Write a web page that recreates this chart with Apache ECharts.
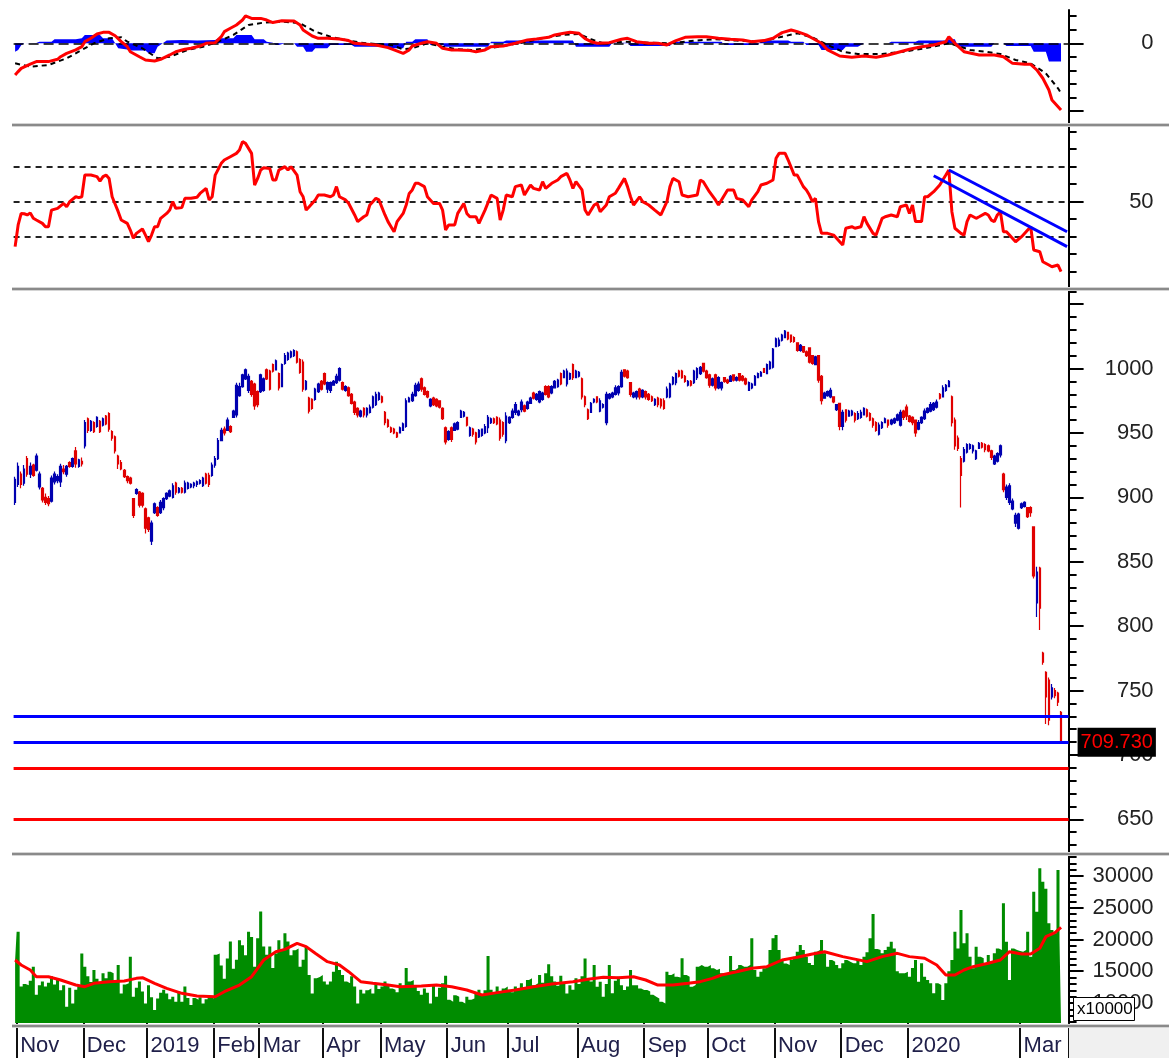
<!DOCTYPE html>
<html><head><meta charset="utf-8">
<script src="https://cdn.jsdelivr.net/npm/echarts/dist/echarts.min.js"></script>
<style>html,body{margin:0;padding:0;background:#fff}#c{width:1169px;height:1058px}</style>
</head><body><div id="c"></div>
<script>
// ---------- DATA ----------
// daily bars [open, close, low, high], 31 Oct 2018 .. 19 Mar 2020
const ohlcBars = [
[896,914,894,916],[910,924,908,927],[918,910,907,920],[911,922,909,925],[930,918,916,932],[918,924,915,927],[925,917,916,926],[921,932,920,934],[908,918,906,920],[907,898,896,908],
[900,896,894,903],[899,895,893,901],[897,915,896,917],[912,918,910,920],[913,916,911,918],[912,924,908,926],[922,920,918,925],[918,924,916,925],[927,924,923,928],[924,930,923,931],
[936,926,923,939],[924,929,923,930],[928,926,924,931],[940,958,938,960],[961,952,950,962],[952,959,951,960],[958,951,950,959],[955,962,954,963],[959,951,950,960],[956,961,955,962],
[963,957,956,964],[965,953,951,966],[951,946,944,952],[947,936,934,948],[932,926,922,933],[927,922,921,929],[921,916,915,922],[916,913,911,917],[915,911,910,916],[899,886,884,899],
[903,906,902,907],[904,894,892,905],[903,894,892,904],[891,876,872,892],[884,875,873,885],[866,880,863,882],[888,895,887,896],[892,886,885,893],[888,896,887,898],[892,899,890,900],
[899,903,898,904],[901,905,900,906],[900,909,899,911],[911,904,902,912],[904,907,903,908],[907,904,903,908],[904,911,903,913],[907,911,906,912],[908,910,907,911],[909,911,907,912],
[910,912,908,913],[911,913,910,914],[909,915,908,916],[918,911,910,919],[917,910,908,919],[917,925,916,927],[925,930,923,932],[930,944,929,946],[944,952,944,954],[953,950,948,955],
[952,960,952,962],[955,951,950,956],[962,967,962,968],[964,987,962,989],[979,986,978,989],[986,995,985,996],[992,999,991,1000],[983,994,981,996],[990,980,978,991],[988,971,968,989],
[982,972,970,983],[982,995,981,996],[983,992,982,993],[999,992,991,1000],[998,984,983,999],[1003,998,997,1004],[999,1006,999,1007],[996,985,983,997],[986,1003,986,1004],[1004,1010,1003,1012],
[1007,1012,1006,1013],[1009,1013,1008,1014],[1010,1014,1009,1015],[1013,1005,1004,1014],[1007,997,996,1008],[1005,984,982,1007],[984,990,983,991],[977,967,965,978],[976,969,968,977],[976,984,975,985],
[982,988,981,989],[990,984,983,991],[996,988,987,997],[984,989,981,990],[983,989,981,990],[987,990,987,991],[989,994,988,996],[991,1000,990,1001],[989,984,983,990],[983,986,982,987],
[985,979,978,986],[980,973,972,981],[974,966,964,975],[969,964,962,970],[963,967,962,968],[969,964,962,970],[964,969,962,970],[966,970,965,972],[970,978,969,979],[972,980,971,982],
[976,981,975,982],[978,974,973,979],[966,958,956,967],[960,955,954,961],[954,951,950,955],[953,950,949,954],[950,947,946,951],[950,954,950,955],[952,957,952,958],[955,975,954,977],
[974,977,974,978],[975,980,974,982],[979,987,978,989],[983,988,982,990],[992,984,982,993],[985,980,979,986],[982,978,977,983],[971,976,970,977],[977,972,971,978],[976,971,970,977],
[975,970,969,975],[969,961,960,970],[954,943,941,955],[945,951,944,952],[954,945,943,955],[952,957,952,958],[953,958,952,959],[962,967,962,968],[963,966,962,967],[962,956,955,962],
[948,954,947,955],[953,949,947,954],[950,943,941,951],[947,952,946,953],[948,953,947,953],[950,955,949,957],[954,962,950,964],[958,961,957,962],[961,958,957,962],[962,957,956,963],
[960,946,944,962],[958,949,947,959],[944,963,942,966],[958,962,957,963],[962,967,961,969],[966,972,964,974],[964,967,963,968],[968,974,966,976],[971,967,966,972],[969,974,968,975],
[973,977,973,978],[981,977,976,982],[976,980,975,981],[974,982,973,983],[976,981,975,982],[986,980,979,987],[986,978,977,987],[981,986,980,987],[985,990,985,991],[986,991,985,992],
[996,988,987,997],[993,998,993,999],[988,998,986,1000],[992,996,991,997],[1003,993,991,1004],[993,998,993,999],[994,997,993,998],[992,978,976,993],[978,972,970,979],[968,961,960,969],
[966,973,966,974],[974,976,973,977],[978,974,973,978],[967,975,966,977],[970,972,969,973],[958,980,956,982],[977,980,976,981],[978,981,977,982],[980,985,979,987],[981,986,979,987],
[986,997,985,999],[999,994,993,999],[998,993,992,999],[989,980,978,989],[978,981,977,982],[978,982,976,983],[984,978,976,985],[978,983,977,984],[982,978,976,983],[980,976,975,981],
[978,975,974,979],[972,976,971,977],[977,972,970,978],[976,971,969,977],[975,969,968,977],[978,984,977,986],[978,988,977,989],[988,993,987,994],[989,996,987,997],[998,994,993,999],
[998,993,992,999],[994,990,989,995],[987,990,986,991],[990,987,986,991],[989,998,988,999],[993,1000,991,1001],[996,1001,995,1002],[1004,998,997,1004],[998,993,992,999],[995,987,985,996],
[987,992,986,993],[995,985,983,996],[985,993,984,994],[985,989,983,990],[993,990,989,993],[991,989,988,992],[990,994,990,995],[995,991,990,995],[991,993,990,994],[996,991,990,996],
[994,991,990,995],[992,988,987,993],[983,989,983,990],[985,988,984,989],[987,994,987,995],[993,996,993,997],[994,997,994,998],[1000,997,997,1000],[996,1003,996,1004],[1000,1005,999,1006],
[1001,1015,1000,1016],[1017,1023,1017,1024],[1018,1022,1017,1024],[1022,1026,1021,1027],[1024,1029,1024,1030],[1028,1023,1022,1028],[1026,1021,1020,1026],[1024,1021,1020,1025],[1020,1014,1013,1020],[1014,1018,1013,1019],
[1017,1013,1012,1017],[1013,1010,1009,1014],[1016,1005,1004,1016],[1010,1004,1003,1010],[1003,1009,1003,1010],[1010,991,989,1010],[994,975,972,995],[977,981,977,982],[979,982,978,983],[978,983,977,985],
[978,974,973,978],[968,972,967,972],[973,955,952,973],[955,966,952,968],[968,960,958,968],[963,967,963,968],[964,967,963,968],[965,960,958,966],[961,965,960,967],[962,966,961,968],
[964,969,964,970],[968,963,962,969],[965,960,959,966],[961,956,954,962],[958,952,951,959],[949,956,948,958],[954,958,953,959],[958,961,958,962],[960,956,954,960],[957,960,956,961],
[958,961,957,962],[960,964,959,965],[956,966,955,968],[967,962,960,968],[970,963,960,972],[963,959,958,964],[962,958,956,963],[960,950,947,960],[953,958,952,960],[958,962,957,963],
[961,967,960,969],[966,969,965,970],[967,972,966,974],[968,973,967,974],[970,974,969,976],[980,977,976,981],[978,985,978,987],[983,987,982,988],[986,990,986,991],[978,958,955,979],
[960,940,937,962],[946,938,936,948],[930,917,892,932],[928,937,927,939],[935,941,934,942],[938,941,937,942],[936,940,934,941],[930,936,929,937],[938,942,938,943],[942,939,938,943],
[941,937,935,942],[940,936,935,941],[936,931,929,937],[926,932,925,933],[928,934,927,935],[933,940,931,941],[918,906,904,919],[900,908,898,910],[896,909,894,911],[891,897,890,899],
[880,886,877,888],[876,887,875,888],[892,895,891,896],[893,896,892,897],[892,885,884,892],[892,888,885,893],[877,839,837,877],[818,842,807,846],[845,814,797,846],[779,772,770,780],
[764,745,724,765],[758,727,723,760],[745,752,743,755],[750,746,744,752],[748,741,738,749],[733,709.73,709.73,734]
];
// daily volume (x10000)
const volumes = [
16800,21200,12600,13000,12800,13500,15700,11300,12800,13400,12600,13200,14200,12900,13600,12000,12800,9400,12400,9900,
12100,12600,17800,15700,14200,13300,15200,13800,13100,14700,13900,14900,14700,13400,16000,11500,12900,13100,17300,11000,
12400,13400,11800,9900,12800,10900,8900,10700,11600,12100,11500,10600,11000,10200,11800,10200,12600,10800,9700,10800,
10500,10900,9900,10600,11000,10700,17600,17800,15900,13800,17000,19700,15400,16800,19900,19100,17500,21200,20400,15700,
20200,24400,18900,17600,18900,15500,17800,19900,18200,21000,19700,17500,18300,18600,15700,16800,18900,14400,11500,13900,
14100,14400,13400,12900,13400,14900,16500,15200,14400,13400,13100,14200,12600,9900,12100,11500,12000,12300,11500,13100,
12200,12600,13400,12800,12300,12100,11700,13100,12600,15500,13400,13600,12600,11900,11300,12300,11600,9900,12800,11000,
12400,13100,14300,10500,10200,11200,11000,10200,9900,11000,10500,10700,11400,12100,11200,12000,17400,12100,11400,12600,
11900,12300,12600,12100,11700,12600,12200,13100,12500,13600,13900,12800,13100,14400,13200,14700,16100,14200,13400,12700,
14300,13000,11500,12800,12100,13900,13000,14200,17000,13800,13400,16000,12570,13360,11000,13000,15980,11520,13500,14150,
12800,12050,12600,15200,12800,12800,12300,12050,12050,11800,11300,11000,10700,10200,9900,14930,14400,14670,14150,14000,
17040,14400,14150,12570,12830,15700,15980,15700,15700,15980,15460,15200,15400,14670,14400,14670,17400,15200,15500,15980,
15720,15700,16000,20180,15200,14150,14930,15460,15720,18340,20180,20710,18340,16770,16200,15980,16770,17300,18080,19130,
18340,17300,16300,15980,18080,18340,19920,17820,15720,16770,16500,16000,15460,16240,16770,16500,16240,16240,16770,15980,
17300,18000,20180,24020,18500,18340,17820,18340,18870,19660,18600,15000,14670,14670,14930,14150,15500,16770,13360,16240,
14150,13600,13100,11520,13100,12830,10470,13100,15000,16770,21230,18600,24640,19400,20970,17300,15460,18870,17300,17040,
16240,17560,16500,17820,18600,18340,25690,19660,13620,18600,18340,18200,18080,18340,21230,17300,27530,24380,31210,29110,
28000,22550,21500,21000,30940,19920
];
// volume moving average, [bar index, value]
const volumeMA = [[0,16770],[2,15980],[5,15195],[7,14140],[11,14140],[15,13620],[20,12830],[23,12570],[26,13100],[31,13360],[36,13460],[40,13880],[42,13990],[46,13100],[50,12290],[55,11520],[60,11100],[66,10990],[69,11770],[74,12830],[78,14140],[80,15460],[82,16770],[86,18080],[89,18450],[93,19400],[96,18870],[99,17820],[103,16510],[107,15980],[110,14930],[114,13360],[118,13100],[123,12830],[127,12570],[134,12680],[139,12830],[144,12570],[149,12045],[154,11260],[159,11630],[165,12045],[171,12570],[177,12990],[184,13360],[189,13730],[194,14040],[199,13990],[204,14140],[208,13620],[212,12830],[217,12830],[222,13100],[226,13360],[230,13880],[233,14410],[238,14930],[243,15460],[248,15720],[253,16770],[258,17190],[263,17720],[267,18080],[273,17300],[281,16510],[286,17300],[291,17820],[295,17300],[300,17040],[304,15980],[307,14410],[310,14410],[313,15195],[316,15720],[321,16250],[325,16770],[328,18080],[332,17720],[335,17720],[338,18610],[340,20440],[343,21070],[345,21910]];
// RSI, [bar index, value]
const rsiLine = [[0,24.2],[1,36.6],[2,43.2],[3,43.0],[4,42.3],[5,43.5],[6,40.4],[7,39.4],[9,37.5],[10,35.6],[11,35.6],[12,45.1],[14,46.1],[16,48.9],[17,47.0],[18,49.9],[20,52.7],[21,52.2],[22,52.7],[23,65.1],[25,65.1],[27,64.2],[28,61.7],[29,64.2],[30,65.1],[31,63.2],[32,52.7],[34,44.2],[35,39.4],[37,37.5],[38,33.7],[39,29.0],[40,31.8],[42,34.3],[43,30.8],[44,27.0],[45,30.8],[46,35.6],[47,35.6],[48,40.4],[50,43.2],[51,45.1],[52,49.9],[53,46.1],[55,46.5],[56,51.8],[58,51.8],[60,52.4],[61,54.6],[63,57.5],[64,50.9],[65,52.7],[66,65.1],[68,71.8],[69,73.7],[71,75.6],[73,77.5],[74,79.4],[75,84.2],[76,83.2],[78,77.5],[79,59.4],[80,63.2],[81,68.0],[82,69.3],[84,68.9],[85,62.3],[86,62.3],[87,68.0],[88,68.9],[89,69.9],[90,68.0],[91,69.9],[93,65.1],[94,55.6],[95,52.7],[96,45.1],[97,47.0],[99,50.9],[100,53.7],[102,53.7],[104,52.7],[105,53.7],[106,58.5],[107,52.7],[109,50.9],[110,49.0],[112,42.3],[113,38.5],[115,41.3],[116,42.3],[117,48.0],[118,49.9],[119,51.8],[120,50.9],[122,42.3],[123,38.5],[124,35.6],[125,32.7],[126,38.5],[128,43.2],[129,48.0],[130,54.6],[131,56.6],[132,60.4],[133,60.4],[135,58.5],[136,52.7],[138,48.9],[140,48.9],[141,45.1],[142,33.7],[143,36.6],[145,36.6],[146,43.2],[148,48.9],[149,43.2],[150,41.3],[152,41.3],[153,37.5],[155,45.1],[157,53.7],[159,51.8],[160,39.4],[161,45.1],[162,53.7],[164,52.7],[165,58.5],[167,59.4],[168,53.7],[170,59.4],[171,57.5],[173,56.6],[174,61.3],[175,57.5],[177,60.4],[179,62.3],[180,64.2],[182,66.1],[183,62.3],[184,57.5],[185,61.3],[187,56.6],[188,45.1],[189,42.3],[191,48.0],[192,48.9],[193,44.2],[195,48.0],[196,52.7],[198,54.7],[199,57.5],[201,63.2],[202,58.5],[203,52.7],[204,48.0],[206,52.7],[207,49.9],[209,48.0],[211,45.1],[213,42.3],[215,49.9],[216,58.5],[217,63.2],[219,61.3],[220,53.7],[222,52.7],[225,53.7],[226,62.3],[227,61.3],[229,55.6],[231,50.9],[232,48.0],[233,50.9],[235,56.6],[237,56.6],[238,51.8],[240,50.9],[242,47.0],[243,50.9],[245,55.6],[246,59.4],[248,60.4],[250,62.3],[251,74.7],[252,77.5],[254,77.5],[255,73.7],[257,65.1],[258,65.1],[260,58.5],[261,56.6],[262,53.7],[263,49.9],[264,51.8],[265,38.5],[266,31.8],[268,31.8],[270,30.8],[272,27.0],[273,25.1],[274,34.7],[276,35.6],[277,34.7],[279,35.6],[280,41.3],[281,37.5],[283,31.8],[284,30.8],[286,40.4],[287,41.3],[289,42.3],[291,41.3],[292,47.0],[294,48.0],[295,43.2],[296,48.0],[297,38.5],[299,38.5],[300,52.7],[301,52.7],[303,55.6],[305,59.4],[306,62.3],[307,65.1],[308,68.0],[309,44.2],[310,34.7],[312,31.8],[313,30.8],[314,38.5],[315,42.3],[317,40.4],[318,41.3],[320,43.2],[321,42.3],[322,39.4],[323,38.5],[324,42.3],[325,44.2],[326,32.7],[327,32.7],[328,30.8],[330,27.0],[332,29.9],[334,33.7],[335,35.6],[336,22.3],[338,21.3],[339,15.6],[341,13.7],[342,12.7],[344,13.7],[345,9.9]];
// MACD, signal, histogram, [bar index, value]
const macdLine = [[0,-23.4],[1,-20.9],[2,-18.5],[5,-15.3],[7,-13.5],[11,-13.5],[14,-11.8],[15,-9.9],[17,-7.4],[20,-4.9],[22,-2.5],[23,1.2],[25,3.7],[27,6.9],[29,8.1],[31,8.1],[33,5.6],[35,1.2],[37,-2.5],[38,-6.2],[41,-9.9],[43,-12.3],[46,-13.1],[48,-11.8],[51,-8.6],[53,-6.2],[56,-4.4],[58,-3.7],[61,-2.0],[63,0],[66,0.5],[68,4.9],[69,8.6],[71,11.1],[73,13.5],[75,17.2],[76,20.2],[78,18.4],[81,18.4],[83,17.2],[85,15.3],[88,16.7],[92,16.5],[94,13.5],[95,9.8],[98,5.4],[100,3.7],[103,3.7],[107,3.2],[110,2.0],[112,0],[115,-0.5],[119,-1.2],[123,-3.2],[125,-4.9],[128,-7.4],[130,-4.9],[131,-2.0],[134,0],[136,1.2],[139,0],[141,-3.7],[144,-4.9],[146,-4.9],[150,-5.4],[152,-6.2],[155,-4.9],[157,-2.5],[161,-2.0],[165,0],[169,2.5],[172,3.2],[176,4.4],[178,6.2],[181,7.4],[183,8.1],[186,7.4],[188,3.5],[190,1.2],[192,0],[196,0.5],[200,3.0],[202,3.7],[205,1.2],[209,0],[212,0],[215,-1.2],[218,2.0],[221,4.4],[225,4.9],[228,4.9],[232,3.7],[236,3.0],[240,2.5],[243,1.2],[247,2.0],[250,3.7],[253,7.9],[256,9.8],[258,8.6],[261,6.2],[263,3.7],[266,0],[268,-4.9],[272,-9.4],[276,-10.3],[280,-9.4],[284,-10.3],[288,-8.6],[292,-6.2],[295,-4.4],[299,-2.5],[303,-1.2],[307,1.2],[308,4.9],[310,0],[313,-6.2],[318,-8.6],[323,-8.6],[326,-9.9],[329,-14.8],[333,-15.5],[335,-15.5],[337,-19.7],[339,-25.8],[341,-34.5],[342,-41.9],[345,-49.3]];
const signalLine = [[0,-14.8],[5,-17.3],[11,-16.0],[17,-11.1],[22,-4.9],[26,0],[31,3.7],[35,4.4],[37,1.2],[42,-3.7],[47,-11.1],[51,-9.9],[57,-4.9],[62,-2.5],[67,1.2],[72,6.2],[77,13.5],[82,15.3],[88,16.0],[94,14.8],[99,8.6],[104,4.9],[109,2.5],[114,0.5],[119,-0.5],[124,-1.2],[128,-4.4],[131,-3.7],[136,0],[141,-2.5],[146,-4.4],[151,-4.9],[156,-3.7],[161,-2.0],[169,1.2],[175,4.4],[181,6.2],[186,6.9],[190,3.0],[194,0],[201,1.2],[209,0.5],[216,0],[224,2.0],[231,3.0],[238,2.0],[246,1.2],[253,4.9],[258,7.4],[263,4.4],[268,-1.2],[273,-6.2],[278,-7.9],[286,-7.9],[293,-6.2],[300,-3.7],[308,0],[310,-1.2],[315,-4.9],[320,-6.2],[325,-7.9],[330,-12.3],[335,-14.8],[340,-22.2],[344,-33.2],[345,-36.9]];
const macdHist = [[0,-6.2],[1,-5],[2,-1.5],[3,0],[7,0.3],[8,1.2],[12,1.2],[13,3.0],[20,3.0],[22,3.7],[23,6.2],[28,6.2],[29,3.7],[32,3.7],[33,0],[34,-3.7],[37,-4.5],[38,-5.4],[43,-5.4],[44,-7.4],[46,-7.4],[47,-2.5],[48,-1.0],[50,2.0],[55,2.5],[60,2.0],[66,2.5],[67,3.7],[72,3.7],[73,6.2],[78,6.2],[79,3.0],[82,3.0],[83,1.2],[85,0.5],[86,-1.2],[87,-1.2],[89,0],[92,0],[93,-2.5],[95,-2.5],[96,-6.2],[98,-6.2],[99,-3.7],[103,-3.7],[104,-1.2],[111,-1.2],[112,-2.5],[123,-2.5],[124,-3.7],[128,-3.7],[129,1.2],[131,1.2],[132,3.0],[136,3.0],[137,-1.2],[141,-1.2],[142,-2.5],[156,-2.5],[157,1.2],[161,1.2],[162,2.0],[184,2.0],[185,-2.5],[196,-2.5],[197,0.5],[202,0.5],[203,-2.0],[216,-2.0],[217,1.2],[233,1.2],[234,-1.2],[245,-1.2],[246,2.0],[255,2.0],[256,1.2],[260,1.2],[261,-1.2],[265,-1.2],[266,-4.9],[273,-4.9],[274,-2.5],[278,-2.5],[280,0],[288,0],[289,1.2],[297,1.2],[298,2.0],[307,2.0],[308,3.0],[310,3.0],[311,-2.5],[322,-2.5],[323,0],[326,0],[327,-2.0],[335,-2.0],[336,-6.2],[340,-6.2],[341,-13.5],[345,-13.5]];
// drawn levels / trend lines
const supportBlue = [730, 710];
const supportRed = [690, 650];
const rsiGuides = [30, 50, 70];
const rsiTrendUpper = [[308, 68.0], [347, 32.7]];
const rsiTrendLower = [[303, 64.7], [347, 24.2]];
// x axis months
const monthStartIdx = [1, 23, 44, 66, 81, 102, 121, 143, 163, 186, 208, 229, 251, 273, 295, 332];
const monthLabels = ['Nov','Dec','2019','Feb','Mar','Apr','May','Jun','Jul','Aug','Sep','Oct','Nov','Dec','2020','Mar'];
// y tick labels
const macdLabels = [0];
const rsiLabels = [50];
const priceLabels = [650, 700, 750, 800, 850, 900, 950, 1000];
const volumeLabels = [10000, 15000, 20000, 25000, 30000];
const volumeUnit = 'x10000';

// ---------- CHART ----------
const SLOTS = 348;
const dayIndex = Array.from({length: SLOTS}, (_, i) => String(i));
const FONT = '"Liberation Sans", Arial, Helvetica, sans-serif';
const GL = 13.6, GW = 1055;
const lastClose = ohlcBars[ohlcBars.length - 1][1];
function ticks(a, b, step, skip) {
  const out = [];
  for (let v = a; v <= b + 1e-9; v += step) { if (!skip || Math.round(v) % skip !== 0) out.push(v); }
  return out;
}
const monthSet = new Set(monthStartIdx);
const grids = [
  {left: GL, width: GW, top: 10, height: 113, outerBoundsMode: 'none', containLabel: false},
  {left: GL, width: GW, top: 127, height: 162, outerBoundsMode: 'none', containLabel: false},
  {left: GL, width: GW, top: 291, height: 561, outerBoundsMode: 'none', containLabel: false},
  {left: GL, width: GW, top: 856, height: 167, outerBoundsMode: 'none', containLabel: false}
];
function xAx(gi, extra) {
  return Object.assign({type: 'category', gridIndex: gi, data: dayIndex, boundaryGap: true,
    axisLine: {show: false}, axisTick: {show: false}, axisLabel: {show: false}, splitLine: {show: false}}, extra || {});
}
function yPair(gi, min, max, minorT, majorT, labels) {
  return [
    {type: 'value', gridIndex: gi, position: 'right', min: min, max: max, splitLine: {show: false},
     axisLine: {show: true, onZero: false, lineStyle: {color: '#000', width: 2}},
     axisTick: {show: true, customValues: minorT, length: 8, lineStyle: {color: '#000', width: 2}},
     axisLabel: {show: false}},
    {type: 'value', gridIndex: gi, position: 'right', min: min, max: max, splitLine: {show: false},
     axisLine: {show: false, onZero: false},
     axisTick: {show: true, customValues: majorT, length: 15, lineStyle: {color: '#000', width: 2}},
     axisLabel: {show: true, customValues: labels, formatter: (v) => String(Math.round(Number(v))),
       margin: 85, align: 'right', color: '#222', fontSize: 22, fontFamily: FONT}}
  ];
}
const P_MIN = 624.6, P_MAX = 1060.2;
const yAxes = [].concat(
  yPair(0, -58.86, 24.6, [-40, -30, -20, -10, 10, 20], [-50, 0], macdLabels),
  yPair(1, 0, 92.57, [10, 20, 30, 40, 60, 70, 80, 90], [50], rsiLabels),
  yPair(2, P_MIN, P_MAX, ticks(630, 1060, 10, 50), ticks(650, 1050, 50), priceLabels),
  [{type: 'value', gridIndex: 2, position: 'right', min: P_MIN, max: P_MAX, z: 6, splitLine: {show: false},
    axisLine: {show: false, onZero: false}, axisTick: {show: false},
    axisLabel: {show: true, customValues: [lastClose], formatter: v => Number(v).toFixed(3), margin: 9, align: 'left',
      color: '#ff0000', backgroundColor: '#000', padding: [5, 3, 4, 3], fontSize: 20, fontFamily: FONT}}],
  yPair(3, 6847, 33150, ticks(7000, 33000, 1000, 5000), ticks(10000, 30000, 5000), volumeLabels)
);
const xAxes = [
  xAx(0), xAx(1), xAx(2),
  xAx(3, {
    axisTick: {show: true, interval: (i) => monthSet.has(i), length: 35, lineStyle: {color: '#111', width: 2}},
    axisLabel: {show: true, interval: (i) => monthSet.has(i), align: 'left', margin: 12, padding: [0, 0, 0, 2],
      fontSize: 22, color: '#20204a', fontFamily: FONT,
      formatter: (v) => { const k = monthStartIdx.indexOf(Number(v)); return k >= 0 ? monthLabels[k] : ''; }}
  })
];
const noLabel = {show: false};
const series = [
  // MACD panel
  {type: 'line', xAxisIndex: 0, yAxisIndex: 0, data: macdHist, symbol: 'none', z: 2,
   lineStyle: {width: 0}, areaStyle: {color: '#0000ff', opacity: 1}, itemStyle: {color: '#0000ff'},
   markLine: {silent: true, symbol: 'none', label: noLabel, lineStyle: {color: '#000', width: 1.5, type: [10, 5]}, data: [{yAxis: 0}]}},
  {type: 'line', xAxisIndex: 0, yAxisIndex: 0, data: signalLine, symbol: 'none', z: 9,
   lineStyle: {color: '#000', width: 2, type: [5, 4]}},
  {type: 'line', xAxisIndex: 0, yAxisIndex: 0, data: macdLine, symbol: 'none', z: 10,
   lineStyle: {color: '#ff0000', width: 3}},
  // RSI panel
  {type: 'line', xAxisIndex: 1, yAxisIndex: 2, data: rsiLine, symbol: 'none', z: 10,
   lineStyle: {color: '#ff0000', width: 3},
   markLine: {silent: true, symbol: 'none', label: noLabel, lineStyle: {color: '#222', width: 2, type: [6, 5]},
     data: rsiGuides.map(v => ({yAxis: v}))}},
  {type: 'line', xAxisIndex: 1, yAxisIndex: 2, data: rsiTrendUpper, symbol: 'none', z: 11,
   lineStyle: {color: '#0000ff', width: 3}},
  {type: 'line', xAxisIndex: 1, yAxisIndex: 2, data: rsiTrendLower, symbol: 'none', z: 11,
   lineStyle: {color: '#0000ff', width: 3}},
  // price panel
  {type: 'candlestick', xAxisIndex: 2, yAxisIndex: 4, data: ohlcBars, barWidth: 2,
   itemStyle: {color: '#0000b0', color0: '#e00000', borderColor: '#0000b0', borderColor0: '#e00000', borderWidth: 1.2},
   markLine: {silent: true, symbol: 'none', label: noLabel,
     data: supportBlue.map(v => ({yAxis: v, lineStyle: {color: '#0000ff', width: 3, type: 'solid'}}))
       .concat(supportRed.map(v => ({yAxis: v, lineStyle: {color: '#ff0000', width: 3, type: 'solid'}})))}},
  // volume panel: contiguous daily columns drawn as a stepped filled series
  {type: 'line', xAxisIndex: 3, yAxisIndex: 7, data: volumes, step: 'middle', symbol: 'none', z: 2,
   lineStyle: {width: 0}, areaStyle: {color: '#008c00', opacity: 1, origin: 'start'}, itemStyle: {color: '#008c00'}},
  {type: 'line', xAxisIndex: 3, yAxisIndex: 7, data: volumeMA, symbol: 'none', z: 10,
   lineStyle: {color: '#ff0000', width: 3}}
];
const bandYs = [123, 287, 852, 1024];
const graphic = [].concat(
  [{type: 'rect', shape: {x: 1069, y: 1028, width: 100, height: 30}, style: {fill: '#f0f0f0'}, z: 50}],
  bandYs.map(y => ({type: 'rect', shape: {x: 12, y: y, width: 1157, height: 4}, style: {fill: '#d4d4d4'}, z: 100})),
  bandYs.map(y => ({type: 'rect', shape: {x: 12, y: y + 1, width: 1157, height: 2}, style: {fill: '#8a8a8a'}, z: 101})),
  [{type: 'rect', shape: {x: 1073.5, y: 997.5, width: 61, height: 23}, style: {fill: '#fff', stroke: '#000', lineWidth: 1}, z: 100},
   {type: 'text', x: 1077, y: 1009.5, style: {text: volumeUnit, font: '17px ' + FONT, fill: '#000', align: 'left', verticalAlign: 'middle'}, z: 101}]
);
const chart = echarts.init(document.getElementById('c'), null, {renderer: 'canvas'});
chart.setOption({
  animation: false,
  backgroundColor: '#fff',
  grid: grids,
  xAxis: xAxes,
  yAxis: yAxes,
  series: series,
  graphic: graphic
});
</script>
</body></html>
